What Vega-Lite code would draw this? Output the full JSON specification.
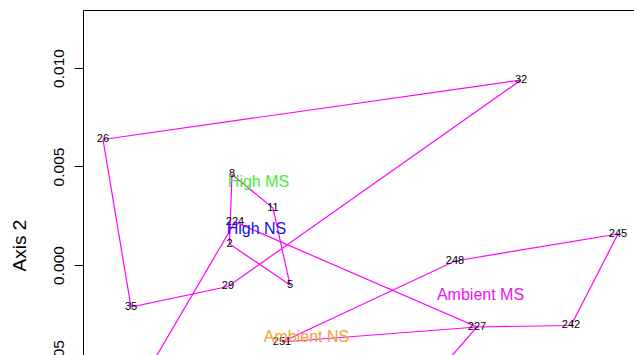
{
  "$schema": "https://vega.github.io/schema/vega-lite/v6.json",
  "width": 551,
  "height": 470,
  "autosize": {"type": "none"},
  "padding": {"left": 83, "top": 10, "right": 0, "bottom": -125},
  "background": "white",
  "config": {
    "view": {"stroke": null},
    "font": "Liberation Sans",
    "axis": {"grid": false, "domainColor": "black", "tickColor": "black", "labelColor": "black", "titleColor": "black", "labelFont": "Liberation Sans", "titleFont": "Liberation Sans"}
  },
  "datasets": {
    "paths": [
      {"poly": "A", "ord": 1, "id": "26", "x": -0.013985, "y": 0.006371},
      {"poly": "A", "ord": 2, "id": "32", "x": 0.007234, "y": 0.009391},
      {"poly": "A", "ord": 3, "id": "29", "x": -0.00764, "y": -0.001091},
      {"poly": "A", "ord": 4, "id": "35", "x": -0.012563, "y": -0.002132},
      {"poly": "A", "ord": 5, "id": "26", "x": -0.013985, "y": 0.006371},
      {"poly": "B", "ord": 1, "id": "8", "x": -0.007437, "y": 0.004594},
      {"poly": "B", "ord": 2, "id": "11", "x": -0.005355, "y": 0.002893},
      {"poly": "B", "ord": 3, "id": "5", "x": -0.004492, "y": -0.001015},
      {"poly": "B", "ord": 4, "id": "2", "x": -0.007563, "y": 0.001066},
      {"poly": "B", "ord": 5, "id": "8", "x": -0.007437, "y": 0.004594},
      {"poly": "C", "ord": 1, "id": "251", "x": -0.004898, "y": -0.003909},
      {"poly": "C", "ord": 2, "id": "248", "x": 0.003883, "y": 0.000203},
      {"poly": "C", "ord": 3, "id": "245", "x": 0.012157, "y": 0.001574},
      {"poly": "C", "ord": 4, "id": "242", "x": 0.009772, "y": -0.003071},
      {"poly": "C", "ord": 5, "id": "227", "x": 0.005, "y": -0.003147},
      {"poly": "C", "ord": 6, "id": "251", "x": -0.004898, "y": -0.003909},
      {"poly": "D", "ord": 1, "id": "224", "x": -0.007284, "y": 0.002183},
      {"poly": "D", "ord": 2, "id": "227", "x": 0.005, "y": -0.003147},
      {"poly": "D", "ord": 3, "id": "", "x": 0.000888, "y": -0.007868},
      {"poly": "D", "ord": 4, "id": "", "x": -0.013173, "y": -0.007868},
      {"poly": "D", "ord": 5, "id": "224", "x": -0.007284, "y": 0.002183}
    ],
    "points": [
      {"id": "26", "x": -0.013985, "y": 0.006371},
      {"id": "32", "x": 0.007234, "y": 0.009391},
      {"id": "35", "x": -0.012563, "y": -0.002132},
      {"id": "29", "x": -0.00764, "y": -0.001091},
      {"id": "8", "x": -0.007437, "y": 0.004594},
      {"id": "11", "x": -0.005355, "y": 0.002893},
      {"id": "5", "x": -0.004492, "y": -0.001015},
      {"id": "224", "x": -0.007284, "y": 0.002183},
      {"id": "2", "x": -0.007563, "y": 0.001066},
      {"id": "248", "x": 0.003883, "y": 0.000203},
      {"id": "245", "x": 0.012157, "y": 0.001574},
      {"id": "242", "x": 0.009772, "y": -0.003071},
      {"id": "227", "x": 0.005, "y": -0.003147},
      {"id": "251", "x": -0.004898, "y": -0.003909}
    ],
    "groups": [
      {"group": "High MS", "x": -0.006091, "y": 0.004188},
      {"group": "High NS", "x": -0.006193, "y": 0.001827},
      {"group": "Ambient MS", "x": 0.005178, "y": -0.001523},
      {"group": "Ambient NS", "x": -0.003655, "y": -0.003655}
    ]
  },
  "layer": [
    {
      "data": {"name": "paths"},
      "mark": {"type": "line", "color": "#ff00ff", "strokeWidth": 1.2, "clip": true},
      "encoding": {
        "x": {"field": "x", "type": "quantitative", "scale": {"domain": [-0.015, 0.01297], "nice": false, "zero": false},
          "axis": {"orient": "top", "labels": false, "ticks": false, "title": null, "domain": true}},
        "y": {"field": "y", "type": "quantitative", "scale": {"domain": [-0.010914, 0.012944], "nice": false, "zero": false},
          "axis": {"values": [-0.005, 0, 0.005, 0.01], "format": ".3f", "labelAngle": -90, "labelAlign": "center", "labelBaseline": "bottom", "labelFontSize": 15.5, "labelPadding": 8, "tickSize": 9, "title": "Axis 2", "titleFontSize": 19, "titleFontWeight": "normal", "titlePadding": 22}},
        "detail": {"field": "poly"},
        "order": {"field": "ord"}
      }
    },
    {
      "data": {"name": "points"},
      "mark": {"type": "text", "fontSize": 11, "color": "black", "baseline": "middle", "align": "center", "clip": true},
      "encoding": {
        "x": {"field": "x", "type": "quantitative"},
        "y": {"field": "y", "type": "quantitative"},
        "text": {"field": "id"}
      }
    },
    {
      "data": {"name": "groups"},
      "mark": {"type": "text", "fontSize": 16, "baseline": "middle", "align": "center", "clip": true},
      "encoding": {
        "x": {"field": "x", "type": "quantitative"},
        "y": {"field": "y", "type": "quantitative"},
        "text": {"field": "group"},
        "color": {"field": "group", "type": "nominal", "legend": null,
          "scale": {"domain": ["High MS", "High NS", "Ambient MS", "Ambient NS"], "range": ["#44ee33", "#1111ee", "#ee11ee", "#f7a030"]}}
      }
    }
  ]
}
